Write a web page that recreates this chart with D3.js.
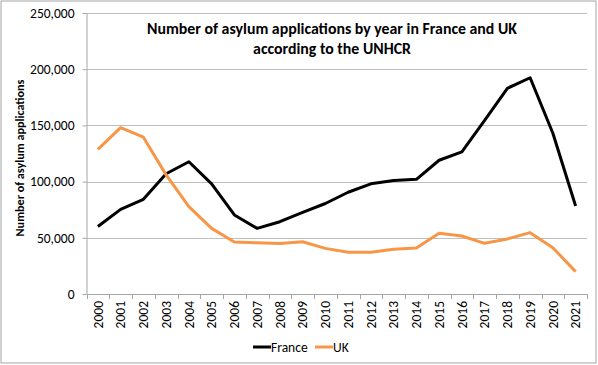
<!DOCTYPE html>
<html><head><meta charset="utf-8">
<script src="https://cdn.jsdelivr.net/npm/d3@7"></script>
<style>
html,body{margin:0;padding:0;background:#fff;}
svg{display:block;}
text{font-family:Carlito,"Open Sans","Liberation Sans",sans-serif;}
</style></head><body>
<svg id="c" width="598" height="365"></svg>
<script>
const years = ["2000","2001","2002","2003","2004","2005","2006","2007","2008","2009","2010","2011","2012","2013","2014","2015","2016","2017","2018","2019","2020","2021"];
const france = [60000,75300,84200,107000,117700,98000,70300,58400,64300,72700,80500,90500,98000,101000,102000,119000,126500,154500,183000,192400,143000,78300];
const uk = [128700,148000,139500,106000,77700,58400,46300,45500,45000,46500,40600,37100,37100,39800,40900,54000,51600,45100,49000,54600,41200,19900];
const yTicks = [0,50000,100000,150000,200000,250000];
const seriesNames = ["France","UK"];
const colors = ["#000000","#f79646"];

const svg = d3.select("#c");
svg.append("rect").attr("x",1).attr("y",1).attr("width",595).attr("height",362)
  .attr("fill","#fff").attr("stroke","#a6a6a6").attr("stroke-width",1);

const pLeft=86.5, pRight=587, pTop=13, pBottom=294;
const x = d3.scaleBand().domain(years).range([pLeft,pRight]);
const y = d3.scaleLinear().domain([0,250000]).range([pBottom,pTop]);

// gridlines
svg.append("g").selectAll("line").data(yTicks.filter(d=>d>0)).join("line")
  .attr("x1",pLeft).attr("x2",pRight).attr("y1",d=>Math.round(y(d))+0.5).attr("y2",d=>Math.round(y(d))+0.5)
  .attr("stroke","#bfbfbf").attr("stroke-width",1);

// y axis
const yAxis = d3.axisLeft(y).tickValues(yTicks).tickSize(4).tickPadding(8).tickFormat(d3.format(","));
const gy = svg.append("g").attr("transform",`translate(${pLeft},0)`).call(yAxis);
gy.select(".domain").attr("stroke","#a6a6a6").attr("d",`M0.5,${pTop}V${pBottom}`);
gy.selectAll(".tick line").attr("stroke","#a6a6a6");
gy.selectAll(".tick text").attr("font-size",13.5).attr("fill","#000").attr("x",-12);

// x axis
const xAxis = d3.axisBottom(x).tickSize(0).tickPadding(0);
const gx = svg.append("g").attr("transform",`translate(0,${pBottom})`).call(xAxis);
gx.select(".domain").attr("stroke","#a6a6a6").attr("d",`M${pLeft},0.5H${pRight}`);
gx.selectAll(".tick text").attr("font-size",13.5).attr("fill","#000")
  .attr("transform","rotate(-90)").attr("text-anchor","end").attr("x",-7).attr("y",0).attr("dy","0.35em");
// tick marks at band boundaries
const bounds = years.map(d=>x(d)).concat([pRight]);
svg.append("g").selectAll("line").data(bounds).join("line")
  .attr("x1",d=>Math.round(d)+0.5).attr("x2",d=>Math.round(d)+0.5).attr("y1",pBottom).attr("y2",pBottom+5)
  .attr("stroke","#a6a6a6");

// lines
const line = d3.line().x((d,i)=>x(years[i])+x.bandwidth()/2).y(d=>y(d));
[france,uk].forEach((s,i)=>{
  svg.append("path").datum(s).attr("d",line).attr("fill","none")
    .attr("stroke",colors[i]).attr("stroke-width",3).attr("stroke-linejoin","round");
});

// title
const t = svg.append("text").attr("x",332).attr("y",34).attr("text-anchor","middle")
  .attr("font-weight","bold").attr("font-size",14.5);
t.append("tspan").attr("x",332).attr("y",34).text("Number of asylum applications by year in France and UK");
t.append("tspan").attr("x",332).attr("y",54).text("according to the UNHCR");
const tw = t.select("tspan").node().getComputedTextLength();
if (tw>0) t.attr("font-size",14.5*370/tw);

// y title
const yt = svg.append("text").attr("transform","translate(24,158) rotate(-90)").attr("text-anchor","middle")
  .attr("font-weight","bold").attr("font-size",12.5).text("Number of asylum applications");
const yw = yt.node().getComputedTextLength();
if (yw>0) yt.attr("font-size",12.5*157/yw);

// legend
const lg = svg.append("g");
const legItems = [{n:seriesNames[0],c:colors[0],x:253},{n:seriesNames[1],c:colors[1],x:315}];
legItems.forEach(it=>{
  lg.append("line").attr("x1",it.x).attr("x2",it.x+18).attr("y1",347).attr("y2",347)
    .attr("stroke",it.c).attr("stroke-width",3);
  lg.append("text").attr("x",it.x+18).attr("y",347).attr("dy","0.35em").attr("font-size",13.5).text(it.n);
});
</script>
</body></html>
